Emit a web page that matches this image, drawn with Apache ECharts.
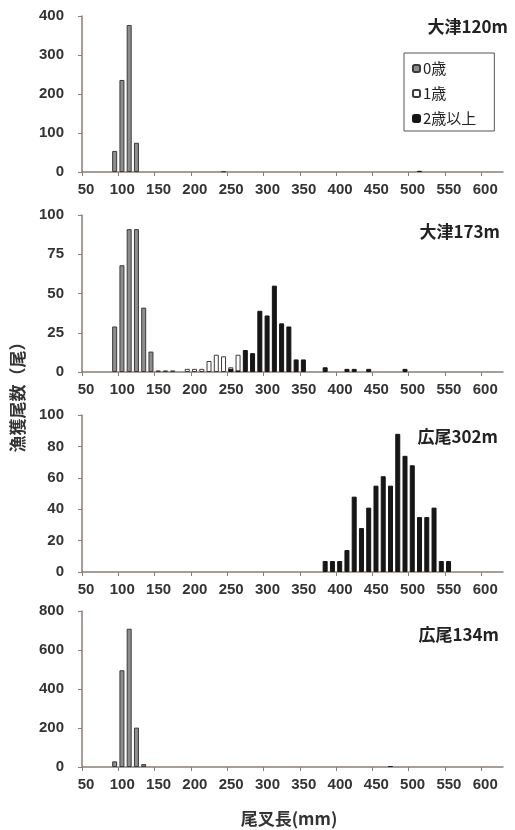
<!DOCTYPE html>
<html>
<head>
<meta charset="utf-8">
<script src="https://cdn.jsdelivr.net/npm/echarts@6/dist/echarts.min.js"></script>
<style>
  html, body { margin: 0; padding: 0; background: #fff; }
  #chart { width: 515px; height: 830px; }
</style>
</head>
<body>
<div id="chart"></div>
<script>
// 尾叉長の目盛り
const xTicks = [50, 100, 150, 200, 250, 300, 350, 400, 450, 500, 550, 600];
const seriesNames = ["0歳", "1歳", "2歳以上"];

// [階級下限(mm), 尾数]
// 大津120m
const otsu120_age0 = [[90, 54], [100, 236], [110, 377], [120, 75]];
const otsu120_age1 = [[240, 2]];
const otsu120_age2 = [[510, 3]];
const otsu120_yTicks = [0, 100, 200, 300, 400];

// 大津173m
const otsu173_age0 = [[90, 29], [100, 68], [110, 91], [120, 91], [130, 41], [140, 13], [150, 1], [160, 1], [170, 1]];
const otsu173_age1 = [[190, 2], [200, 2], [210, 2], [220, 7], [230, 11], [240, 10], [250, 3], [260, 11]];
const otsu173_age2 = [[250, 2], [260, 1], [270, 14], [280, 12], [290, 39], [300, 36], [310, 55], [320, 31], [330, 29], [340, 8], [350, 8], [380, 3], [410, 2], [420, 2], [440, 2], [490, 2]];
const otsu173_yTicks = [0, 25, 50, 75, 100];

// 広尾302m
const hiroo302_age0 = [];
const hiroo302_age1 = [];
const hiroo302_age2 = [[380, 7], [390, 7], [400, 7], [410, 14], [420, 48], [430, 28], [440, 41], [450, 55], [460, 61], [470, 55], [480, 88], [490, 74], [500, 68], [510, 35], [520, 35], [530, 41], [540, 7], [550, 7]];
const hiroo302_yTicks = [0, 20, 40, 60, 80, 100];

// 広尾134m
const hiroo134_age0 = [[90, 29], [100, 496], [110, 709], [120, 202], [130, 15]];
const hiroo134_age1 = [];
const hiroo134_age2 = [[470, 5]];
const hiroo134_yTicks = [0, 200, 400, 600, 800];

const panels = [
  { title: "大津120m", data: [otsu120_age0, otsu120_age1, otsu120_age2], yTicks: otsu120_yTicks, top: 16, height: 156, tTop: 17, tRight: 7 },
  { title: "大津173m", data: [otsu173_age0, otsu173_age1, otsu173_age2], yTicks: otsu173_yTicks, top: 215, height: 157, tTop: 222, tRight: 15 },
  { title: "広尾302m", data: [hiroo302_age0, hiroo302_age1, hiroo302_age2], yTicks: hiroo302_yTicks, top: 415, height: 157, tTop: 427, tRight: 17 },
  { title: "広尾134m", data: [hiroo134_age0, hiroo134_age1, hiroo134_age2], yTicks: hiroo134_yTicks, top: 611, height: 156, tTop: 625, tRight: 16 },
];

const barStyles = [
  { color: "#8e8e8e", borderColor: "#3a3a3a", borderWidth: 1 },
  { color: "#ffffff", borderColor: "#3a3a3a", borderWidth: 1 },
  { color: "#161616", borderColor: "#161616", borderWidth: 1 },
];

const axisColor = "#8a7e78";
const labelFont = { color: "#333", fontSize: 15, fontWeight: "bold", fontFamily: "Liberation Sans, Arial, sans-serif" };

// 積み上げは添字で揃うので、階級の和集合で並べ直す
function alignStack(lists) {
  const keys = [];
  lists.forEach((l) => l.forEach((d) => { if (keys.indexOf(d[0]) < 0) keys.push(d[0]); }));
  keys.sort((a, b) => a - b);
  return lists.map((l) => keys.map((k) => {
    const hit = l.find((d) => d[0] === k);
    return [k + 5, hit ? hit[1] : null]; // 階級の中央に描く
  }));
}

const chart = echarts.init(document.getElementById("chart"));
const grid = [], xAxis = [], yAxis = [], series = [], title = [];

panels.forEach((p, i) => {
  grid.push({ left: 82, right: 12, top: p.top, height: p.height });
  title.push({
    text: p.title, right: p.tRight, top: p.tTop, padding: 0,
    textStyle: { fontSize: 17, fontWeight: "bold", color: "#222", lineHeight: 20, fontFamily: "Noto Sans CJK JP" },
  });
  xAxis.push({
    type: "value", gridIndex: i, min: 50, max: 630,
    axisLine: { show: true, lineStyle: { color: axisColor, width: 1.5 } },
    axisTick: { show: true, length: 4, customValues: xTicks, lineStyle: { color: axisColor } },
    axisLabel: Object.assign({ margin: 10, customValues: xTicks, padding: [0, 0, 0, 8] }, labelFont),
    splitLine: { show: false },
  });
  const yt = p.yTicks;
  yAxis.push({
    type: "value", gridIndex: i, min: yt[0], max: yt[yt.length - 1], interval: yt[1] - yt[0],
    axisLine: { show: true, lineStyle: { color: axisColor, width: 1.5 } },
    axisTick: { show: true, length: 4, lineStyle: { color: axisColor } },
    axisLabel: Object.assign({ margin: 18 }, labelFont),
    splitLine: { show: false },
  });
  alignStack(p.data).forEach((d, k) => {
    series.push({
      name: seriesNames[k], type: "bar", xAxisIndex: i, yAxisIndex: i,
      stack: "p" + i, barWidth: 5, data: d,
      itemStyle: barStyles[k], silent: true,
    });
  });
});

const option = {
  animation: false,
  backgroundColor: "#fff",
  title: title,
  grid: grid,
  xAxis: xAxis,
  yAxis: yAxis,
  series: series,
  legend: {
    data: seriesNames, orient: "vertical", left: 404, top: 53,
    padding: [8, 18, 5, 8], itemWidth: 7, itemHeight: 7, itemGap: 10,
    borderColor: "#555", borderWidth: 1, selectedMode: false,
    textStyle: { fontSize: 15, color: "#222", fontFamily: "Noto Sans CJK JP", padding: [0, 0, 0, -2] },
  },
  graphic: [
    {
      type: "text", x: 18, y: 393, rotation: Math.PI / 2,
      style: { text: "漁獲尾数（尾）", align: "center", verticalAlign: "middle", font: "bold 17px 'Noto Sans CJK JP'", fill: "#333" },
    },
    {
      type: "text", x: 289, y: 819,
      style: { text: "尾叉長(mm)", align: "center", verticalAlign: "middle", font: "bold 17px 'Noto Sans CJK JP'", fill: "#333" },
    },
  ],
};

option && chart.setOption(option);
</script>
</body>
</html>
